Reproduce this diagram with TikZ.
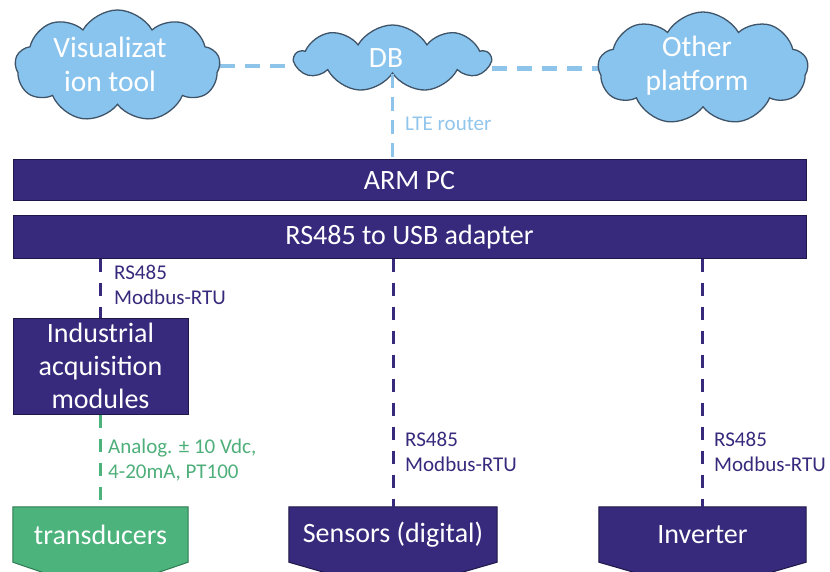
\documentclass[tikz,border=0pt]{standalone}
\usepackage{fontspec}
\setmainfont{Carlito}
\usetikzlibrary{shapes.symbols,backgrounds,calc}

\definecolor{navy}{HTML}{372A7C}
\definecolor{navyline}{HTML}{1E1748}
\definecolor{cloudfill}{HTML}{89C4EE}
\definecolor{cloudline}{HTML}{3F5468}
\definecolor{skyline}{HTML}{8EC3EA}
\definecolor{skytext}{HTML}{92C5EB}
\definecolor{gfill}{HTML}{4BB37B}
\definecolor{gline}{HTML}{2F7A52}
\definecolor{gtext}{HTML}{4FAF7A}

\newcommand\mainsize{\fontsize{28}{33}\selectfont}
\newcommand\cloudsize{\fontsize{29.5}{34}\selectfont}
\newcommand\labelsize{\fontsize{21}{25.5}\selectfont}

\begin{document}
\begin{tikzpicture}[x=1pt,y=-1pt,
  bar/.style={draw=navyline, fill=navy, line width=1pt, text=white, font=\mainsize,
    minimum width=793pt, inner sep=0pt},
  boxnode/.style={draw=navyline, fill=navy, line width=1pt, text=white, font=\mainsize,
    align=center, inner sep=0pt},
  endnode/.style={text=white, font=\mainsize, inner sep=0pt},
  cloudbox/.style={cloud, cloud puffs=9, cloud puff arc=120, cloud ignores aspect,
    draw=cloudline, fill=cloudfill, line width=1.3pt, inner sep=0pt},
  cloudtext/.style={text=white, font=\cloudsize, align=center, inner sep=0pt},
  lbl/.style={font=\labelsize, align=left, inner sep=0pt, anchor=west},
  wire/.style={line width=3pt, dash pattern=on 13pt off 11pt},
  skywire/.style={skyline, line width=4.5pt, dash pattern=on 15pt off 10pt},
  ltewire/.style={skyline, line width=3pt, dash pattern=on 14pt off 9pt}]
\useasboundingbox (0,0) rectangle (830,572);
\clip (0,0) rectangle (830,572);

% cloud services
\node[cloudbox, minimum width=205pt, minimum height=112pt] (vis) at (117.5,66) {};
\node[cloudbox, minimum width=195pt, minimum height=67pt] (db) at (392.5,58.5) {};
\node[cloudbox, minimum width=210pt, minimum height=113pt] (oth) at (703,68.5) {};
\node[cloudtext] (vist) at (110,64) {Visualizat\\ion tool};
\node[cloudtext] (dbt) at (386,58) {DB};
\node[cloudtext] (otht) at (697,66) {Other\\platform};

% main bars
\node[bar, minimum height=41pt] (arm) at (409.5,180.5) {ARM PC};
\node[bar, minimum height=42pt] (rs) at (409.5,237) {RS485 to USB adapter};

% acquisition module
\node[boxnode, minimum width=175pt, minimum height=96pt] (ind) at (100.5,366)
  {Industrial\\acquisition\\modules};

% field devices (pentagon bodies are drawn behind)
\node[endnode, minimum width=175pt, minimum height=55pt] (trans) at (100.5,534.5) {transducers};
\node[endnode, minimum width=208pt, minimum height=55pt] (sens) at (393,534.5) {Sensors (digital)};
\node[endnode, minimum width=207pt, minimum height=55pt] (inv) at (702.5,534.5) {Inverter};

\begin{scope}[on background layer]
  \draw[skywire] (vis.east) -- (vis.east -| db.west);
  \draw[skywire] (oth.west -| db.east) -- (oth.west);
  \foreach \n/\f/\d in {trans/gfill/gline, sens/navy/navyline, inv/navy/navyline}
    \draw[draw=\d, fill=\f, line width=1pt]
      (\n.north west) -- (\n.north east) -- (\n.south east)
      -- ($(\n.south)+(0,30)$) -- (\n.south west) -- cycle;
\end{scope}

% links
\draw[ltewire] (db.south) -- (db.south |- arm.north);
\draw[wire, navy] (rs.south -| ind.north) -- (ind.north);
\draw[wire, navy] (rs.south -| sens.north) -- (sens.north);
\draw[wire, navy] (rs.south -| inv.north) -- (inv.north);
\draw[wire, gfill, line width=3.5pt] (ind.south) -- (trans.north);

% link labels
\node[lbl, skytext] (lte) at (405,124) {LTE router};
\node[lbl, navy] (l1) at (114,285) {RS485\\Modbus-RTU};
\node[lbl, navy] (l2) at (405,452) {RS485\\Modbus-RTU};
\node[lbl, navy] (l3) at (714,452) {RS485\\Modbus-RTU};
\node[lbl, gtext] (l4) at (108,460) {Analog. ± 10 Vdc,\\4-20mA, PT100};
\end{tikzpicture}
\end{document}
